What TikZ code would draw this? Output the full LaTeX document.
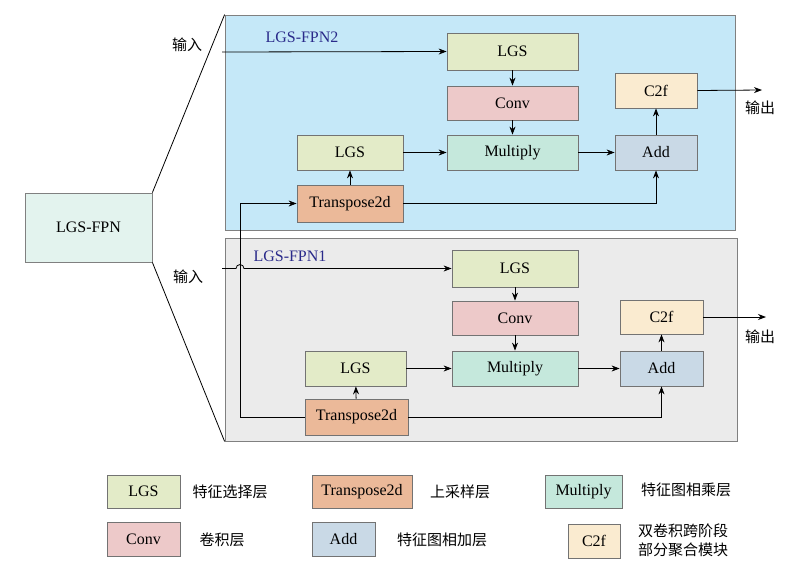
\documentclass[tikz,border=0pt]{standalone}
\usepackage{fontspec}
\setmainfont{Liberation Serif}
\newfontfamily\cjk{Noto Sans CJK SC}
\usetikzlibrary{arrows.meta}
\definecolor{cLGS}{HTML}{E3EBC8}
\definecolor{cConv}{HTML}{EDC9C9}
\definecolor{cMul}{HTML}{C5E8DC}
\definecolor{cAdd}{HTML}{C9D9E6}
\definecolor{cC2f}{HTML}{FAEBD0}
\definecolor{cTr}{HTML}{EBB999}
\definecolor{cBlue}{HTML}{C5E8F8}
\definecolor{cGray}{HTML}{EBEBEB}
\definecolor{cMint}{HTML}{E3F3EE}
\definecolor{cLab}{HTML}{2A2A8A}
\begin{document}
\begin{tikzpicture}[x=1pt,y=-1pt,
  bx/.style={draw=black!55,line width=0.8pt,inner sep=0pt,font=\fontsize{16}{18}\selectfont},
  ar/.style={-{Stealth[length=8pt,width=6pt]},line width=0.8pt},
  ln/.style={line width=0.8pt},
  zh/.style={font=\cjk\fontsize{15}{19}\selectfont,inner sep=0pt},
  lab/.style={text=cLab,font=\fontsize{16}{18}\selectfont,inner sep=0pt}]
\useasboundingbox (0,0) rectangle (806,582);
\newcommand\bxat[5]{\node[bx,fill=#5,minimum width={#3-#1},minimum height={#4-#2}] at ({(#1+#3)/2},{(#2+#4)/2})}
% panels
\node[draw=black!50,fill=cBlue,line width=0.8pt,minimum width=510,minimum height=215,inner sep=0] (P2) at (480,122.5) {};
\node[draw=black!50,fill=cGray,line width=0.8pt,minimum width=512,minimum height=203,inner sep=0] (P1) at (481,339.5) {};
\node[draw=black!50,fill=cMint,line width=0.8pt,minimum width=127,minimum height=69,inner sep=0,font=\fontsize{16}{18}\selectfont] (F) at (88.5,227.5) {LGS-FPN};
\draw[ln] (F.north east) -- (P2.north west);
\draw[ln] (F.south east) -- (P1.south west);
\node[lab] at (302,37) {LGS-FPN2};
\node[lab] at (290,256) {LGS-FPN1};
% top
\bxat{447}{33}{578}{70}{cLGS} (tL) {LGS};
\bxat{447}{86}{578}{120}{cConv} (tC) {Conv};
\bxat{615}{73}{697}{108}{cC2f} (tF) {C2f};
\bxat{297}{135}{403}{170}{cLGS} (tL2) {LGS};
\bxat{447}{135}{578}{170}{cMul} (tM) {Multiply};
\bxat{615}{135}{697}{170}{cAdd} (tA) {Add};
\bxat{297}{185}{403}{222}{cTr} (tT) {Transpose2d};
\node[zh] (in2) at (187,45) {输入};
\node[zh] (out2) at (760,108) {输出};
\coordinate (s2) at (222,52);
\draw[ar] (s2) -- (tL.west);
\draw[ar] (tL) -- (tC);
\draw[ar] (tC) -- (tM);
\draw[ar] (tL2) -- (tM);
\draw[ar] (tM) -- (tA);
\draw[ar] (tA) -- (tF);
\draw[ar] (tT) -- (tL2);
\draw[ar] (tT.east) -| (tA.south);
\coordinate (e2) at (762,90);
\draw[ar] (tF.east) -- (e2);
% bottom
\bxat{452}{250}{578}{287}{cLGS} (bL) {LGS};
\bxat{452}{301}{578}{335}{cConv} (bC) {Conv};
\bxat{620}{300}{703}{334}{cC2f} (bF) {C2f};
\bxat{305}{351}{406}{386}{cLGS} (bL2) {LGS};
\bxat{452}{351}{578}{386}{cMul} (bM) {Multiply};
\bxat{620}{351}{703}{386}{cAdd} (bA) {Add};
\bxat{305}{399}{408}{435}{cTr} (bT) {Transpose2d};
\node[zh] (in1) at (188,277) {输入};
\node[zh] (out1) at (760,337) {输出};
\coordinate (s1) at (222,268.5);
\draw[ar] (s1) -- (236,268.5) arc (180:360:4) -- (bL.west);
\draw[ar] (bL) -- (bC);
\draw[ar] (bC) -- (bM);
\draw[ar] (bL2) -- (bM);
\draw[ar] (bM) -- (bA);
\draw[ar] (bA) -- (bF);
\draw[ar] (bT) -- (bL2);
\draw[ar] (bT.east) -| (bA.south);
\coordinate (e1) at (766,317);
\draw[ar] (bF.east) -- (e1);
\draw[ar] (bT.west) -- (240,417) -- (240,203.5) -- (tT.west);
% legend
\bxat{107}{475}{180}{508}{cLGS} (g1) {LGS};
\node[zh] at (230,492) {特征选择层};
\bxat{312}{475}{412}{508}{cTr} (g2) {Transpose2d};
\node[zh] at (460,492) {上采样层};
\bxat{545}{475}{622}{508}{cMul} (g3) {Multiply};
\node[zh] at (686,490) {特征图相乘层};
\bxat{107}{522}{180}{556}{cConv} (g4) {Conv};
\node[zh] at (222,540) {卷积层};
\bxat{312}{522}{375}{556}{cAdd} (g5) {Add};
\node[zh] at (442,540) {特征图相加层};
\bxat{568}{524}{620}{558}{cC2f} (g6) {C2f};
\node[zh,align=center] at (683,540) {双卷积跨阶段\\部分聚合模块};
\end{tikzpicture}
\end{document}
